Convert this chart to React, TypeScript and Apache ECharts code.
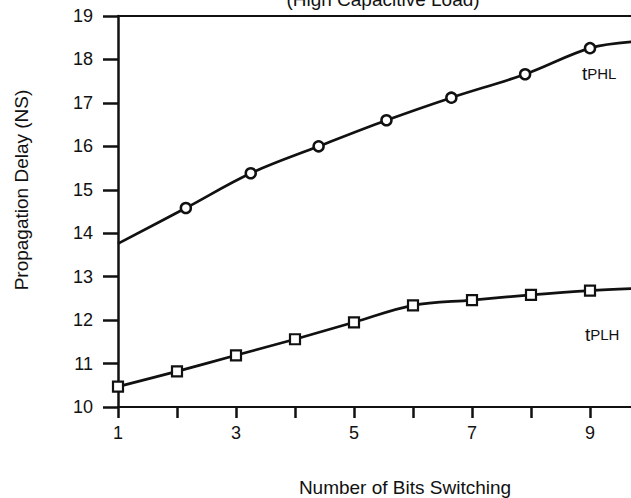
import React, { useEffect, useRef } from "react";
import * as echarts from "echarts";

// Propagation delay versus number of simultaneously switching bits
const phlBits = [1, 2.15, 3.25, 4.4, 5.55, 6.65, 7.9, 9.0, 9.75];
const phlDelay = [13.76, 14.58, 15.38, 16.0, 16.6, 17.12, 17.66, 18.26, 18.41];
const phlMarked = [false, true, true, true, true, true, true, true, false];

const plhBits = [1, 2, 3, 4, 5, 6, 7, 8, 9, 9.75];
const plhDelay = [10.47, 10.82, 11.19, 11.56, 11.95, 12.34, 12.46, 12.58, 12.68, 12.73];
const plhMarked = [true, true, true, true, true, true, true, true, true, false];

const xLabels = ["1", "3", "5", "7", "9"];
const yMin = 10;
const yMax = 19;

const FONT = '"Liberation Sans", Arial, Helvetica, sans-serif';
const INK = "#111";

function buildData(xs: number[], ys: number[], marked: boolean[]) {
  return xs.map((x, i) =>
    marked[i] ? [x, ys[i]] : { value: [x, ys[i]], symbol: "none" }
  );
}

export default function App() {
  const ref = useRef<HTMLDivElement>(null);

  useEffect(() => {
    if (!ref.current) return;
    const chart = echarts.init(ref.current, null, { renderer: "svg" });
    chart.setOption({
      animation: false,
      backgroundColor: "#fff",
      grid: { left: 118, right: 11, top: 16, bottom: 91, containLabel: false },
      xAxis: [
        {
          type: "value",
          min: 1,
          max: 10,
          interval: 1,
          axisLine: { show: true, lineStyle: { color: INK, width: 2 } },
          axisTick: { show: true, length: 11, lineStyle: { color: INK, width: 2.5 } },
          axisLabel: {
            margin: 17,
            color: INK,
            fontFamily: FONT,
            fontSize: 18,
            formatter: (v: number) => (xLabels.includes(String(v)) ? String(v) : ""),
          },
          splitLine: { show: false },
        },
        {
          type: "value",
          position: "top",
          min: 1,
          max: 10,
          axisLine: { show: true, lineStyle: { color: INK, width: 2 } },
          axisTick: { show: false },
          axisLabel: { show: false },
          splitLine: { show: false },
        },
      ],
      yAxis: {
        type: "value",
        min: yMin,
        max: yMax,
        interval: 1,
        axisLine: { show: true, lineStyle: { color: INK, width: 2.5 } },
        axisTick: { show: true, length: 15, lineStyle: { color: INK, width: 2.5 } },
        axisLabel: {
          margin: 25,
          color: INK,
          fontFamily: FONT,
          fontSize: 18,
        },
        splitLine: { show: false },
      },
      series: [
        {
          name: "tPHL",
          type: "line",
          smooth: 0.35,
          data: buildData(phlBits, phlDelay, phlMarked),
          symbol: "circle",
          symbolSize: 10,
          lineStyle: { color: INK, width: 2.7 },
          itemStyle: { color: "#fff", borderColor: INK, borderWidth: 2.5 },
          z: 3,
        },
        {
          name: "tPLH",
          type: "line",
          smooth: 0.35,
          data: buildData(plhBits, plhDelay, plhMarked),
          symbol: "rect",
          symbolSize: 10,
          lineStyle: { color: INK, width: 2.7 },
          itemStyle: { color: "#fff", borderColor: INK, borderWidth: 2.2 },
          z: 3,
        },
      ],
      graphic: [
        {
          type: "text",
          x: 383,
          y: 9,
          style: {
            text: "(High Capacitive Load)",
            font: `19px ${FONT}`,
            fill: INK,
            textAlign: "center",
            textVerticalAlign: "bottom",
          },
        },
        {
          type: "text",
          x: 405,
          y: 487,
          style: {
            text: "Number of Bits Switching",
            font: `19px ${FONT}`,
            fill: INK,
            textAlign: "center",
            textVerticalAlign: "middle",
          },
        },
        {
          type: "text",
          x: 21,
          y: 190,
          rotation: Math.PI / 2,
          style: {
            text: "Propagation Delay (NS)",
            font: `19px ${FONT}`,
            fill: INK,
            textAlign: "center",
            textVerticalAlign: "middle",
          },
        },
        {
          type: "text",
          x: 582,
          y: 83,
          style: {
            text: "{t|t}{s|PHL}",
            fill: INK,
            textVerticalAlign: "bottom",
            rich: {
              t: { fontFamily: FONT, fontSize: 19, fill: INK },
              s: { fontFamily: FONT, fontSize: 15, fill: INK },
            },
          },
        },
        {
          type: "text",
          x: 585,
          y: 344,
          style: {
            text: "{t|t}{s|PLH}",
            fill: INK,
            textVerticalAlign: "bottom",
            rich: {
              t: { fontFamily: FONT, fontSize: 19, fill: INK },
              s: { fontFamily: FONT, fontSize: 15, fill: INK },
            },
          },
        },
      ],
    });
    return () => chart.dispose();
  }, []);

  return (
    <div
      style={{
        position: "fixed",
        left: 0,
        top: 0,
        width: 631,
        height: 498,
        overflow: "hidden",
        background: "#fff",
      }}
    >
      <div ref={ref} style={{ width: 660, height: 498 }} />
    </div>
  );
}
